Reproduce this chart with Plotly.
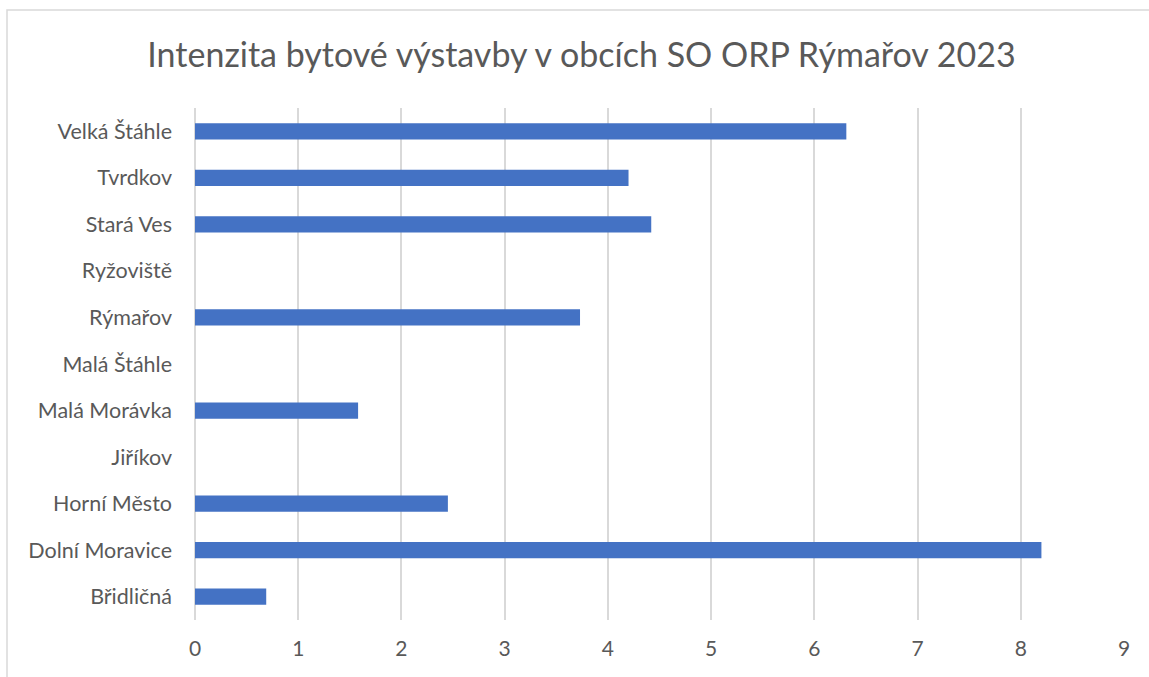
import plotly.graph_objects as go

categories = ["Břidličná", "Dolní Moravice", "Horní Město", "Jiříkov", "Malá Morávka",
              "Malá Štáhle", "Rýmařov", "Ryžoviště", "Stará Ves", "Tvrdkov", "Velká Štáhle"]
values = [0.69, 8.20, 2.45, 0, 1.58, 0, 3.73, 0, 4.42, 4.20, 6.31]
x_ticks = [0, 1, 2, 3, 4, 5, 6, 7, 8, 9]
title_text = "Intenzita bytové výstavby v obcích SO ORP Rýmařov 2023"

W, H = 1149, 677
L, R, T, B = 195, 25, 108, 57
pw, ph = W - L - R, H - T - B

fig = go.Figure(go.Bar(
    y=categories, x=values, orientation="h",
    marker=dict(color="#4472C4", line=dict(width=0)),
    width=0.35,
))

font_family = "Lato, 'Open Sans', sans-serif"
fig.update_layout(
    width=W, height=H,
    margin=dict(l=L, r=R, t=T, b=B, autoexpand=False),
    paper_bgcolor="white", plot_bgcolor="white",
    showlegend=False,
    title=dict(text=title_text, x=581.5 / W, xanchor="center", xref="container",
               y=(H - 55) / H, yanchor="middle",
               font=dict(family=font_family, size=34, color="#595959")),
    font=dict(family=font_family, size=21, color="#595959"),
)
fig.update_xaxes(range=[0, 9], tickvals=x_ticks, showgrid=True, gridcolor="#d9d9d9",
                 gridwidth=1.5, zeroline=True, zerolinecolor="#d9d9d9", zerolinewidth=1.5,
                 showline=False, ticks="", ticklabelstandoff=14, automargin=False,
                 tickfont=dict(size=21, color="#595959"))
fig.update_yaxes(categoryorder="array", categoryarray=categories, showgrid=False,
                 showline=False, ticks="", ticklabelstandoff=22, automargin=False,
                 tickfont=dict(size=21.5, color="#595959"))

# chart border
x0 = (7 - L) / pw
y1 = (H - B - 10) / ph
fig.add_shape(type="rect", xref="paper", yref="paper", x0=x0, x1=(W + 5 - L) / pw,
              y0=-(B + 5) / ph, y1=y1, line=dict(color="#d9d9d9", width=1.5),
              fillcolor="rgba(0,0,0,0)", layer="below")

fig.write_html("out.html", config={"displayModeBar": False},
               post_script="document.body.style.margin='0px';")
